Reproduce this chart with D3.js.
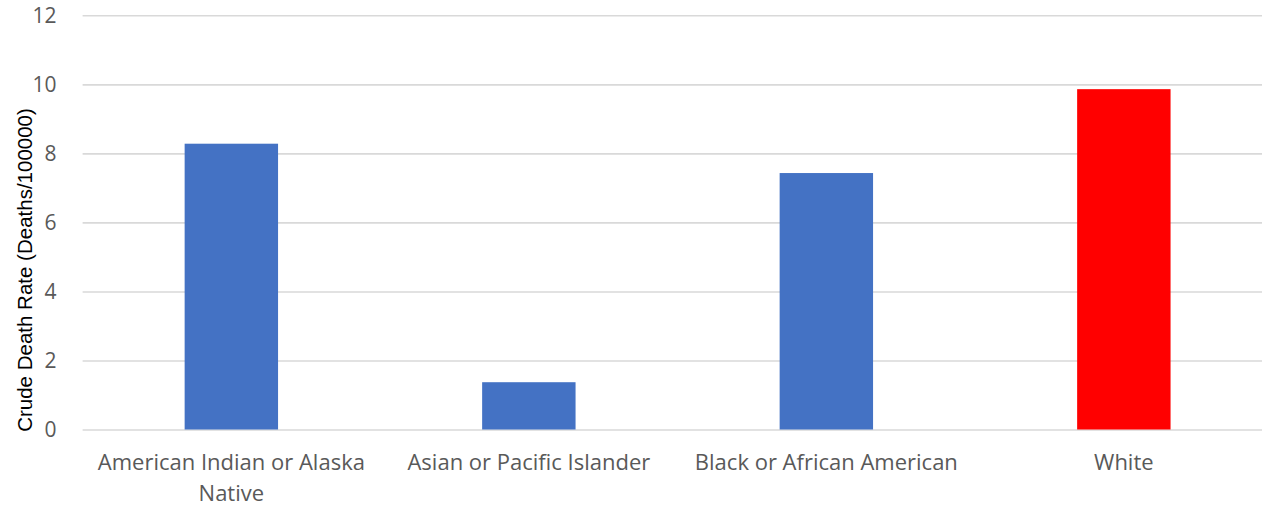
<!DOCTYPE html>
<html>
<head>
<meta charset="utf-8">
<script src="https://cdn.jsdelivr.net/npm/d3@7"></script>
<style>
  html, body { margin: 0; padding: 0; background: #fff; }
  svg { display: block; }
</style>
</head>
<body>
<svg id="chart" width="1262" height="507"></svg>
<script>
// Crude death rate by race
const categories = [
  "American Indian or Alaska Native",
  "Asian or Pacific Islander",
  "Black or African American",
  "White"
];
const rates = [8.28, 1.37, 7.43, 9.86];
const barColors = ["#4472C4", "#4472C4", "#4472C4", "#FF0000"];
const yTicks = [0, 2, 4, 6, 8, 10, 12];
const yTitle = "Crude Death Rate (Deaths/100000)";

const svg = d3.select("#chart");
const plot = { left: 82.6, right: 1272.6, top: 15.3, bottom: 429.5 };

const x = d3.scaleBand()
  .domain(categories)
  .range([plot.left, plot.right])
  .paddingInner(0.686)
  .paddingOuter(0.343);

const y = d3.scaleLinear()
  .domain([0, 12])
  .range([plot.bottom, plot.top]);

const labelFont = "'Open Sans', 'Noto Sans', sans-serif";

// Gridlines with tick labels
const yAxis = d3.axisLeft(y)
  .tickValues(yTicks)
  .tickSize(-(plot.right - plot.left))
  .tickPadding(26)
  .tickFormat(d3.format("d"));

const gy = svg.append("g")
  .attr("transform", `translate(${plot.left},0)`)
  .call(yAxis);
gy.select(".domain").remove();
gy.selectAll(".tick line")
  .attr("stroke", "#d9d9d9")
  .attr("stroke-width", 1.6);
gy.selectAll(".tick text")
  .attr("fill", "#595959")
  .style("font-family", labelFont)
  .style("font-size", "21px");

// Bars
svg.append("g")
  .selectAll("rect")
  .data(categories)
  .join("rect")
  .attr("x", d => x(d))
  .attr("width", x.bandwidth())
  .attr("y", (d, i) => y(rates[i]))
  .attr("height", (d, i) => y(0) - y(rates[i]))
  .attr("fill", (d, i) => barColors[i]);

// Category labels, wrapped to the band width
const xAxis = d3.axisBottom(x).tickSize(0).tickPadding(25);
const gx = svg.append("g")
  .attr("transform", `translate(0,${plot.bottom})`)
  .call(xAxis);
gx.select(".domain").remove();
gx.selectAll(".tick text")
  .attr("fill", "#595959")
  .style("font-family", labelFont)
  .style("font-size", "22px")
  .each(function(d) {
    const text = d3.select(this);
    const words = d.split(/\s+/);
    const maxW = x.step() - 10;
    const yAttr = text.attr("y");
    const dy = parseFloat(text.attr("dy"));
    text.text(null);
    let line = [];
    let lineNo = 0;
    let tspan = text.append("tspan").attr("x", 0).attr("y", yAttr).attr("dy", dy + "em");
    for (const w of words) {
      line.push(w);
      tspan.text(line.join(" "));
      if (tspan.node().getComputedTextLength() > maxW && line.length > 1) {
        line.pop();
        tspan.text(line.join(" "));
        line = [w];
        lineNo++;
        tspan = text.append("tspan").attr("x", 0).attr("y", yAttr)
          .attr("dy", (dy + lineNo * 1.4) + "em").text(w);
      }
    }
  });

// Y axis title
svg.append("text")
  .attr("transform", "translate(32,270) rotate(-90)")
  .attr("text-anchor", "middle")
  .attr("fill", "#000")
  .style("font-family", "'Liberation Sans', Arial, sans-serif")
  .style("font-size", "20.5px")
  .text(yTitle);
</script>
</body>
</html>
